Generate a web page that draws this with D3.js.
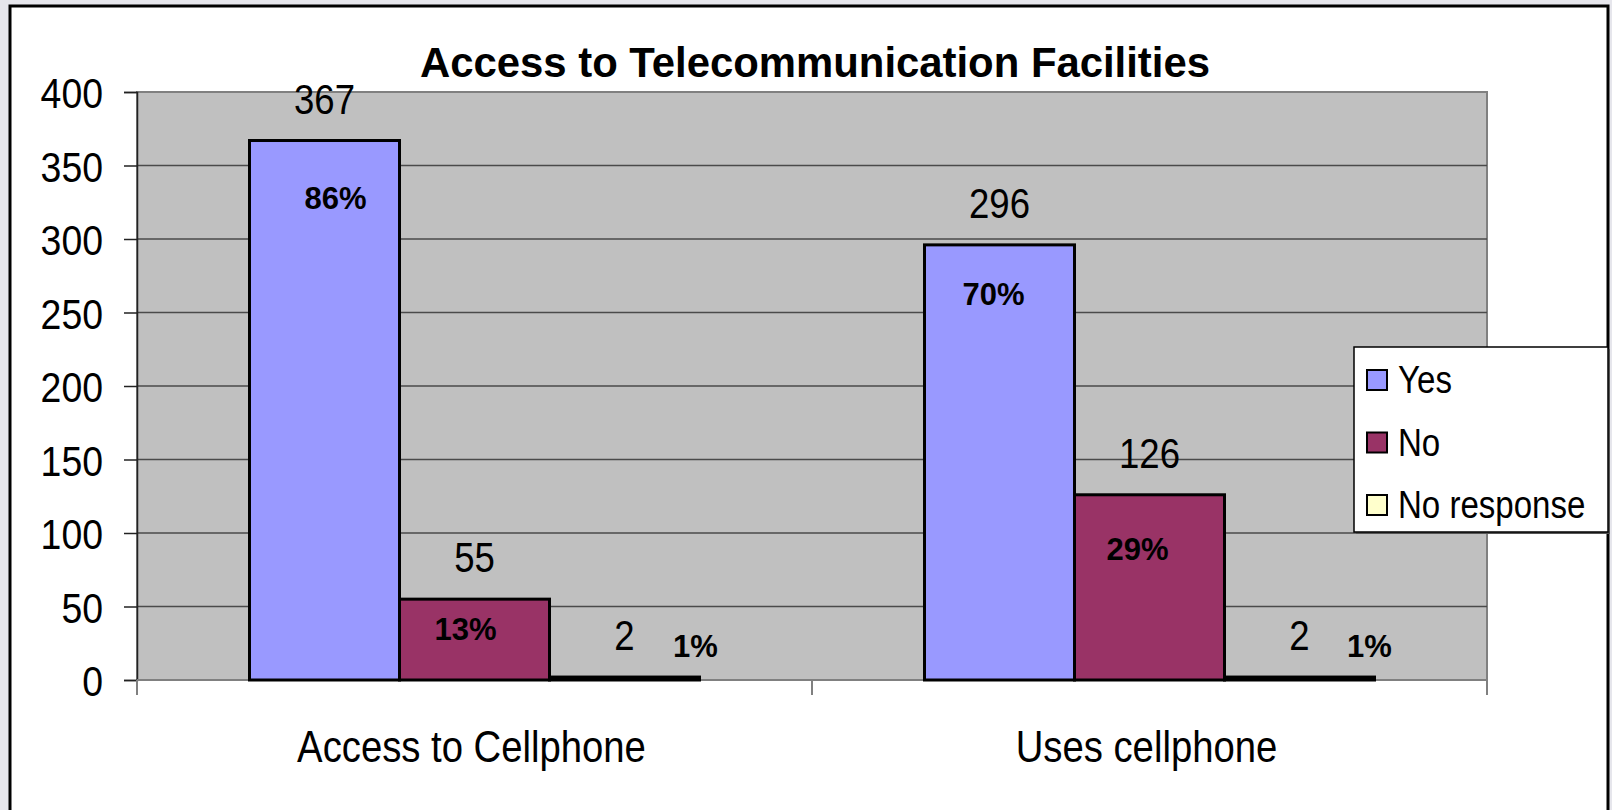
<!DOCTYPE html>
<html>
<head>
<meta charset="utf-8">
<script src="https://cdn.jsdelivr.net/npm/d3@7"></script>
<style>
  html, body { margin: 0; padding: 0; background: #e6e6ec; }
  svg { display: block; }
  text { font-family: "Liberation Sans", Arial, Helvetica, sans-serif; fill: #000; }
</style>
</head>
<body>
<script>
// Survey counts per question and answer
const categories = ["Access to Cellphone", "Uses cellphone"];
const series = ["Yes", "No", "No response"];
const yesValues = [367, 296];
const noValues = [55, 126];
const noResponseValues = [2, 2];
const yesShare = ["86%", "70%"];
const noShare = ["13%", "29%"];
const noResponseShare = ["1%", "1%"];
const yTicks = [0, 50, 100, 150, 200, 250, 300, 350, 400];
const titleText = "Access to Telecommunication Facilities";

const seriesValues = [yesValues, noValues, noResponseValues];
const seriesShares = [yesShare, noShare, noResponseShare];
const colors = ["#9999FF", "#993366", "#FFFFCC"];

// hand-placed offsets of the percentage labels [dx, dy from bar top], per series then category
const shareNudge = [
  [[11, 68], [-6, 60]],
  [[-9, 41], [-12, 65]],
  [[71, -20], [70, -20]]
];

const W = 1612, H = 810;
const plot = { left: 137, right: 1487, top: 92, bottom: 680 };
const narrow = 0.87; // horizontal squeeze of the regular text face

const svg = d3.select("body").append("svg").attr("width", W).attr("height", H);

// chart frame
svg.append("rect").attr("x", 10).attr("y", 6).attr("width", 1598).attr("height", 820)
  .attr("fill", "#fff").attr("stroke", "#000").attr("stroke-width", 3);

const x0 = d3.scaleBand().domain(categories).range([plot.left, plot.right]).padding(0);
const x1 = d3.scaleBand().domain(series).range([0, x0.bandwidth()]).paddingInner(0).paddingOuter(0.75);
const y = d3.scaleLinear().domain([0, 400]).range([plot.bottom, plot.top]);

// plot area
svg.append("rect").attr("x", plot.left).attr("y", plot.top)
  .attr("width", plot.right - plot.left).attr("height", plot.bottom - plot.top)
  .attr("fill", "#C0C0C0").attr("stroke", "#808080").attr("stroke-width", 2);

// gridlines
svg.append("g").selectAll("line").data(yTicks.filter(t => t > 0 && t < 400)).join("line")
  .attr("x1", plot.left).attr("x2", plot.right)
  .attr("y1", d => y(d)).attr("y2", d => y(d))
  .attr("stroke", "#4a4a4a").attr("stroke-width", 1.5);

// y axis
const yAxis = svg.append("g").attr("transform", `translate(${plot.left},0)`)
  .call(d3.axisLeft(y).tickValues(yTicks).tickSize(13).tickPadding(0).tickFormat(d3.format("d")));
yAxis.select(".domain").attr("stroke", "#222").attr("stroke-width", 1.5);
yAxis.selectAll(".tick line").attr("stroke", "#222").attr("stroke-width", 1.5);
yAxis.selectAll(".tick text").remove();
yAxis.selectAll(".tick").append("text")
  .attr("transform", `translate(-34,15.5) scale(${narrow},1)`)
  .attr("text-anchor", "end").attr("font-size", 43).text(d => d);

// x axis
const xAxis = svg.append("g").attr("transform", `translate(0,${plot.bottom})`);
xAxis.append("line").attr("x1", plot.left).attr("x2", plot.right)
  .attr("stroke", "#808080").attr("stroke-width", 2);
const xTickPos = [plot.left, ...categories.map(c => x0(c) + x0.bandwidth())];
xAxis.selectAll("line.tk").data(xTickPos).join("line").attr("class", "tk")
  .attr("x1", d => d).attr("x2", d => d).attr("y1", 0).attr("y2", 15)
  .attr("stroke", "#808080").attr("stroke-width", 2);
xAxis.selectAll("text").data(categories).join("text")
  .attr("transform", d => `translate(${x0(d) + x0.bandwidth() / 2 - 3},82) scale(${narrow},1)`)
  .attr("text-anchor", "middle").attr("font-size", 44).text(d => d);

// bars
const bars = [];
series.forEach((s, si) => {
  categories.forEach((c, ci) => {
    bars.push({ s, si, c, ci, v: seriesValues[si][ci], share: seriesShares[si][ci] });
  });
});

svg.append("g").selectAll("rect").data(bars).join("rect")
  .attr("x", d => x0(d.c) + x1(d.s))
  .attr("y", d => y(d.v))
  .attr("width", x1.bandwidth())
  .attr("height", d => y(0) - y(d.v))
  .attr("fill", d => colors[d.si])
  .attr("stroke", "#000").attr("stroke-width", 3);

// value labels above bars
svg.append("g").selectAll("text").data(bars).join("text")
  .attr("transform", d => `translate(${x0(d.c) + x1(d.s) + x1.bandwidth() / 2},${y(d.v) - 27}) scale(${narrow},1)`)
  .attr("text-anchor", "middle").attr("font-size", 42).text(d => d.v);

// percentage labels
svg.append("g").selectAll("text").data(bars).join("text")
  .attr("x", d => x0(d.c) + x1(d.s) + x1.bandwidth() / 2 + shareNudge[d.si][d.ci][0])
  .attr("y", d => y(d.v) + shareNudge[d.si][d.ci][1])
  .attr("text-anchor", "middle").attr("font-size", 31).attr("font-weight", "bold")
  .text(d => d.share);

// title
svg.append("text").attr("x", 815).attr("y", 77).attr("text-anchor", "middle")
  .attr("font-size", 43).attr("font-weight", "bold")
  .attr("textLength", 790).attr("lengthAdjust", "spacingAndGlyphs")
  .text(titleText);

// legend
const legend = svg.append("g").attr("transform", "translate(1354,347)");
legend.append("rect").attr("x", 2).attr("y", 2).attr("width", 254).attr("height", 185).attr("fill", "#555");
legend.append("rect").attr("width", 254).attr("height", 185)
  .attr("fill", "#fff").attr("stroke", "#000").attr("stroke-width", 1.5);
const item = legend.selectAll("g.item").data(series).join("g").attr("class", "item")
  .attr("transform", (d, i) => `translate(0,${33 + i * 62.5})`);
item.append("rect").attr("x", 13).attr("y", -10).attr("width", 20).attr("height", 20)
  .attr("fill", (d, i) => colors[i]).attr("stroke", "#000").attr("stroke-width", 2);
item.append("text").attr("transform", `translate(44,13) scale(${narrow},1)`)
  .attr("font-size", 38).text(d => d);
</script>
</body>
</html>
